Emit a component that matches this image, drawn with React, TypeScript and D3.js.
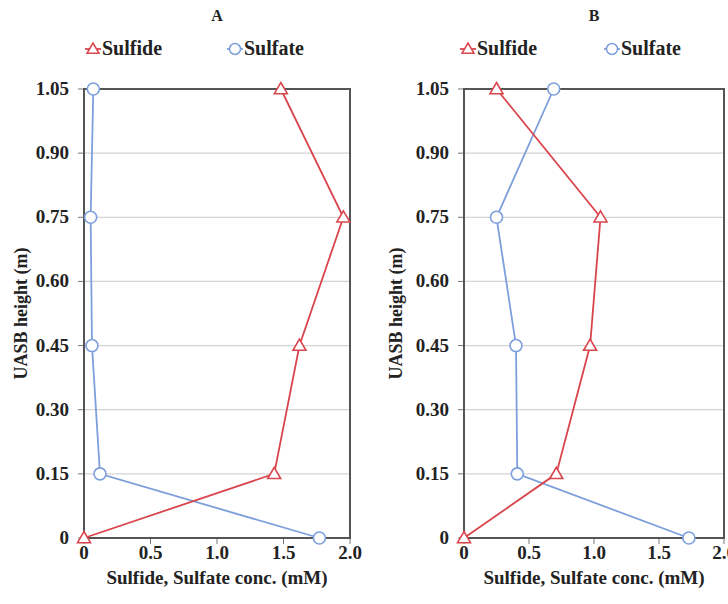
import React from "react";
import * as d3 from "d3";

const heights = [0, 0.15, 0.45, 0.75, 1.05];
const yTicks = [0, 0.15, 0.3, 0.45, 0.6, 0.75, 0.9, 1.05];
const xTicks = [0, 0.5, 1.0, 1.5, 2.0];
const sulfideA = [0, 1.43, 1.62, 1.95, 1.48];
const sulfateA = [1.77, 0.12, 0.06, 0.05, 0.07];
const sulfideB = [0, 0.71, 0.97, 1.05, 0.25];
const sulfateB = [1.73, 0.41, 0.4, 0.25, 0.69];
const panelTitles = ["A", "B"];

const RED = "#d9454c";
const BLUE = "#7d9fdc";
const FONT = "Liberation Serif, Times New Roman, Times, serif";

type PanelProps = {
  title: string;
  left: number;
  right: number;
  sulfide: number[];
  sulfate: number[];
  legend: { tri: number; circ: number };
  labelX: number;
};

const TOP = 89;
const BOTTOM = 538;

function tri(x: number, y: number, s = 7) {
  return `M${x},${y - s} L${x + s},${y + s * 0.72} L${x - s},${y + s * 0.72} Z`;
}

function fmtX(v: number) {
  return v === 0 ? "0" : d3.format(".1f")(v);
}
function fmtY(v: number) {
  return v === 0 ? "0" : d3.format(".2f")(v);
}

function Panel({ title, left, right, sulfide, sulfate, legend, labelX }: PanelProps) {
  const x = d3.scaleLinear().domain([0, 2]).range([left, right]);
  const y = d3.scaleLinear().domain([0, 1.05]).range([BOTTOM, TOP]);
  const line = d3
    .line<[number, number]>()
    .x((d) => x(d[0]))
    .y((d) => y(d[1]));
  const sPts: [number, number][] = sulfide.map((v, i) => [v, heights[i]]);
  const tPts: [number, number][] = sulfate.map((v, i) => [v, heights[i]]);
  const cx = (left + right) / 2;
  return (
    <g style={{ fontFamily: FONT, fontWeight: 700 }} fill="#222">
      <text x={cx} y={21} textAnchor="middle" fontSize={16}>
        {title}
      </text>
      {/* legend */}
      <line x1={legend.tri - 8} x2={legend.tri + 8} y1={49} y2={49} stroke={RED} strokeWidth={1.8} />
      <path d={tri(legend.tri, 49, 6)} fill="#fff" stroke={RED} strokeWidth={1.5} />
      <text x={legend.tri + 9} y={55} fontSize={20}>
        Sulfide
      </text>
      <line x1={legend.circ - 8} x2={legend.circ + 8} y1={49} y2={49} stroke={BLUE} strokeWidth={1.8} />
      <circle cx={legend.circ} cy={49} r={5.5} fill="#fff" stroke={BLUE} strokeWidth={1.5} />
      <text x={legend.circ + 9} y={55} fontSize={20}>
        Sulfate
      </text>
      {/* gridlines */}
      {yTicks.map((t) => (
        <g key={t}>
          <line x1={left} x2={right} y1={y(t)} y2={y(t)} stroke="#d4d4d4" strokeWidth={1.2} />
          <line x1={left - 6} x2={left} y1={y(t)} y2={y(t)} stroke="#777" strokeWidth={1} />
          <text x={left - 15} y={y(t) + 6} textAnchor="end" fontSize={19}>
            {fmtY(t)}
          </text>
        </g>
      ))}
      {xTicks.map((t) => (
        <g key={t}>
          <line x1={x(t)} x2={x(t)} y1={BOTTOM} y2={BOTTOM + 6} stroke="#777" strokeWidth={1} />
          <text x={x(t)} y={BOTTOM + 21} textAnchor="middle" fontSize={19}>
            {fmtX(t)}
          </text>
        </g>
      ))}
      <rect x={left} y={TOP} width={right - left} height={BOTTOM - TOP} fill="none" stroke="#555" strokeWidth={2} />
      <text x={cx} y={584} textAnchor="middle" fontSize={19}>
        Sulfide, Sulfate conc. (mM)
      </text>
      <text
        transform={`translate(${labelX},${(TOP + BOTTOM) / 2}) rotate(-90)`}
        textAnchor="middle"
        fontSize={18}
      >
        UASB height (m)
      </text>
      {/* series */}
      <path d={line(tPts) || ""} fill="none" stroke={BLUE} strokeWidth={1.8} />
      <path d={line(sPts) || ""} fill="none" stroke={RED} strokeWidth={1.8} />
      {tPts.map((p, i) => (
        <circle key={"c" + i} cx={x(p[0])} cy={y(p[1])} r={6} fill="#fff" stroke={BLUE} strokeWidth={1.6} />
      ))}
      {sPts.map((p, i) => (
        <path key={"t" + i} d={tri(x(p[0]), y(p[1]), 6.5)} fill="#fff" stroke={RED} strokeWidth={1.6} />
      ))}
    </g>
  );
}

export default function App() {
  return (
    <svg
      width={728}
      height={604}
      style={{ position: "absolute", left: 0, top: 0, background: "#fff" }}
    >
      <rect width={728} height={604} fill="#fff" />
      <Panel
        title={panelTitles[0]}
        left={84}
        right={350}
        sulfide={sulfideA}
        sulfate={sulfateA}
        legend={{ tri: 93, circ: 235 }}
        labelX={27}
      />
      <Panel
        title={panelTitles[1]}
        left={464}
        right={724}
        sulfide={sulfideB}
        sulfate={sulfateB}
        legend={{ tri: 468, circ: 612 }}
        labelX={402}
      />
    </svg>
  );
}
